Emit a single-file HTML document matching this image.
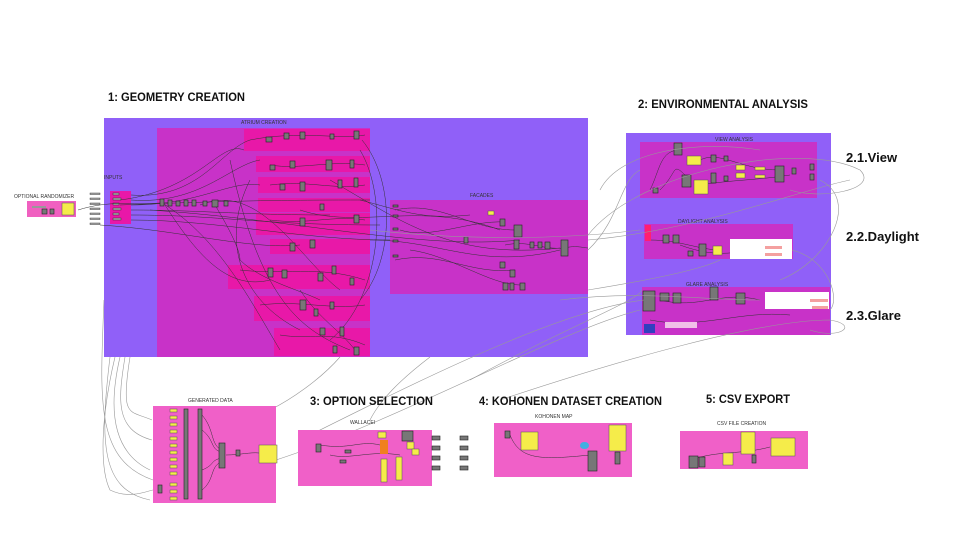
<!DOCTYPE html>
<html><head><meta charset="utf-8"><style>
body{margin:0;background:#fff;width:960px;height:540px;overflow:hidden}
svg{display:block}
.h{font-family:"Liberation Sans",sans-serif;font-weight:bold;font-size:12px;fill:#111}
.s{font-family:"Liberation Sans",sans-serif;font-size:5px;fill:#333}
.n{fill:#777;stroke:#222;stroke-width:.6}
.y{fill:#f5ec4a;stroke:#555;stroke-width:.5}
.w{fill:none;stroke:#333;stroke-width:.5}
.g{fill:none;stroke:#999;stroke-width:.6}
</style></head><body>
<svg width="960" height="540" viewBox="0 0 960 540">
<rect x="104" y="118" width="484" height="239" fill="#9060f8"/>
<rect x="157" y="128" width="213" height="229" fill="#c832c8"/>
<g fill="#e818a8">
<rect x="244" y="129" width="126" height="22"/><rect x="256" y="156" width="114" height="16"/>
<rect x="258" y="177" width="112" height="16"/><rect x="258" y="198" width="112" height="14"/>
<rect x="256" y="213" width="114" height="22"/><rect x="270" y="239" width="100" height="15"/>
<rect x="228" y="265" width="142" height="24"/><rect x="254" y="296" width="116" height="25"/>
<rect x="274" y="328" width="96" height="28"/>
</g>
<rect x="390" y="200" width="198" height="94" fill="#c832c8"/>
<text class="s" x="241" y="124">ATRIUM CREATION</text>
<text class="s" x="104" y="179">INPUTS</text>
<text class="s" x="470" y="197">FACADES</text>
<rect x="110" y="191" width="21" height="33" fill="#e818a8"/>
<g fill="#aaa" stroke="#222" stroke-width=".4">
<rect x="113" y="193" width="6" height="2"/><rect x="113" y="198" width="8" height="2"/><rect x="113" y="203" width="6" height="2"/><rect x="113" y="208" width="8" height="2"/><rect x="113" y="213" width="6" height="2"/><rect x="113" y="218" width="8" height="2"/>
<rect x="90" y="193" width="10" height="1.5"/><rect x="90" y="198" width="10" height="1.5"/><rect x="90" y="203" width="10" height="1.5"/><rect x="90" y="208" width="10" height="1.5"/><rect x="90" y="213" width="10" height="1.5"/><rect x="90" y="218" width="10" height="1.5"/><rect x="90" y="223" width="10" height="1.5"/>
</g>
<g class="w">
<path d="M78 210 C110 200 130 205 160 203"/><path d="M120 200 C200 190 220 140 244 150"/><path d="M120 205 C250 200 300 200 370 200"/>
<path d="M164 204 C220 240 250 300 280 350"/><path d="M200 205 C260 180 300 260 340 290"/><path d="M300 210 C360 230 420 200 500 230"/>
<path d="M360 150 C390 200 380 300 330 340"/><path d="M330 180 C400 220 450 260 560 248"/><path d="M150 210 C300 220 420 250 520 240"/>
<path d="M230 160 C260 300 300 330 350 350"/><path d="M370 240 C440 240 480 270 560 250"/>
<path d="M131 195 C200 200 220 150 250 140"/><path d="M131 200 C200 205 230 165 260 160"/><path d="M131 205 C200 205 230 180 260 185"/>
<path d="M131 210 C200 210 240 215 330 215"/><path d="M131 215 C220 215 260 225 380 225"/><path d="M131 220 C220 220 300 240 390 240"/>
<path d="M100 225 C180 230 250 250 300 245"/><path d="M165 205 C200 260 230 290 270 280"/><path d="M250 140 C300 130 340 140 365 135"/>
<path d="M270 165 C300 170 330 160 365 165"/><path d="M270 185 C310 180 330 190 365 185"/><path d="M270 220 C310 225 330 215 365 220"/>
<path d="M240 270 C280 275 320 265 365 280"/><path d="M260 305 C300 300 330 310 365 305"/><path d="M280 335 C310 340 330 330 365 345"/>
<path d="M250 180 C220 240 240 300 300 330"/><path d="M362 140 C395 180 395 260 360 300"/><path d="M360 200 C400 210 420 220 470 215"/>
<path d="M395 210 C440 200 470 230 515 230"/><path d="M395 260 C440 250 470 275 515 270"/><path d="M505 245 C530 240 540 250 565 248"/>
<path d="M400 230 C430 240 470 220 505 222"/><path d="M410 250 C450 255 490 285 520 285"/><path d="M565 248 C575 245 585 248 588 248"/>
<path d="M215 205 C230 230 240 250 240 260 C260 280 300 290 320 300"/><path d="M300 290 C320 320 340 330 355 350"/>
</g>
<g class="n">
<rect x="160" y="199" width="4" height="7"/><rect x="168" y="200" width="4" height="6"/><rect x="176" y="201" width="4" height="5"/><rect x="184" y="200" width="4" height="6"/><rect x="192" y="200" width="4" height="6"/><rect x="203" y="201" width="4" height="5"/><rect x="212" y="200" width="6" height="7"/><rect x="224" y="201" width="4" height="5"/>
<rect x="266" y="137" width="6" height="5"/><rect x="284" y="133" width="5" height="6"/><rect x="300" y="132" width="5" height="7"/><rect x="330" y="134" width="4" height="5"/><rect x="354" y="131" width="5" height="8"/><rect x="326" y="160" width="6" height="10"/><rect x="350" y="160" width="4" height="8"/><rect x="290" y="161" width="5" height="7"/><rect x="270" y="165" width="5" height="5"/>
<rect x="300" y="182" width="5" height="9"/><rect x="338" y="180" width="4" height="8"/><rect x="354" y="178" width="4" height="9"/><rect x="320" y="204" width="4" height="6"/><rect x="300" y="218" width="5" height="8"/><rect x="354" y="215" width="5" height="8"/><rect x="280" y="184" width="5" height="6"/>
<rect x="290" y="243" width="5" height="8"/><rect x="310" y="240" width="5" height="8"/><rect x="268" y="268" width="5" height="9"/><rect x="318" y="273" width="5" height="8"/><rect x="350" y="278" width="4" height="7"/><rect x="282" y="270" width="5" height="8"/><rect x="332" y="266" width="4" height="8"/>
<rect x="300" y="300" width="6" height="10"/><rect x="330" y="302" width="4" height="7"/><rect x="320" y="328" width="5" height="7"/><rect x="340" y="327" width="4" height="9"/><rect x="354" y="347" width="5" height="8"/><rect x="314" y="309" width="4" height="7"/><rect x="333" y="346" width="4" height="7"/>
<rect x="464" y="237" width="4" height="6"/><rect x="500" y="219" width="5" height="7"/><rect x="514" y="225" width="8" height="12"/><rect x="514" y="240" width="5" height="9"/><rect x="545" y="242" width="5" height="7"/><rect x="561" y="240" width="7" height="16"/><rect x="530" y="242" width="4" height="6"/><rect x="538" y="242" width="4" height="6"/>
<rect x="500" y="262" width="5" height="6"/><rect x="510" y="270" width="5" height="7"/><rect x="503" y="283" width="5" height="7"/><rect x="520" y="283" width="5" height="7"/><rect x="510" y="283" width="4" height="7"/>
<rect x="393" y="205" width="5" height="2"/><rect x="393" y="215" width="5" height="2"/><rect x="393" y="228" width="5" height="2"/><rect x="393" y="240" width="5" height="2"/><rect x="393" y="255" width="5" height="2"/>
</g>
<rect x="488" y="211" width="6" height="4" class="y"/>
<rect x="27" y="201" width="49" height="16" fill="#f060c0"/>
<rect x="62" y="203" width="12" height="12" class="y"/>
<rect x="32" y="206" width="14" height="2" fill="#999"/><rect x="42" y="209" width="5" height="5" class="n"/><rect x="50" y="209" width="4" height="5" class="n"/>
<text class="s" x="14" y="198">OPTIONAL RANDOMIZER</text>
<rect x="626" y="133" width="205" height="202" fill="#9060f8"/>
<rect x="640" y="142" width="177" height="56" fill="#c832c8"/>
<rect x="644" y="224" width="149" height="35" fill="#c832c8"/>
<rect x="642" y="287" width="188" height="48" fill="#c832c8"/>
<text class="s" x="715" y="141">VIEW ANALYSIS</text>
<text class="s" x="678" y="223">DAYLIGHT ANALYSIS</text>
<text class="s" x="686" y="286">GLARE ANALYSIS</text>
<g class="w">
<path d="M650 190 C660 170 660 150 680 150"/><path d="M660 190 C680 170 670 160 690 180"/><path d="M700 160 C720 150 740 170 780 170"/><path d="M700 185 C730 180 760 180 790 175"/>
<path d="M650 240 C680 240 700 250 720 250"/><path d="M680 245 C720 260 740 250 760 250"/><path d="M660 300 C700 310 720 290 760 300"/><path d="M650 320 C700 330 740 310 790 315"/>
</g>
<rect x="687" y="156" width="14" height="9" class="y"/><rect x="694" y="180" width="14" height="14" class="y"/>
<rect x="736" y="165" width="9" height="5" class="y"/><rect x="736" y="173" width="9" height="5" class="y"/><rect x="755" y="167" width="10" height="3" class="y"/><rect x="755" y="175" width="10" height="3" class="y"/>
<g class="n"><rect x="674" y="143" width="8" height="12"/><rect x="682" y="175" width="9" height="12"/><rect x="711" y="155" width="5" height="7"/><rect x="711" y="173" width="5" height="10"/><rect x="775" y="166" width="9" height="16"/><rect x="792" y="168" width="4" height="6"/><rect x="810" y="164" width="4" height="6"/><rect x="810" y="174" width="4" height="6"/><rect x="653" y="188" width="5" height="5"/><rect x="724" y="156" width="4" height="5"/><rect x="724" y="176" width="4" height="5"/>
<rect x="663" y="235" width="6" height="8"/><rect x="673" y="235" width="6" height="8"/><rect x="699" y="244" width="7" height="12"/><rect x="688" y="251" width="5" height="5"/><rect x="643" y="291" width="12" height="20"/><rect x="673" y="293" width="8" height="10"/><rect x="710" y="287" width="8" height="13"/><rect x="736" y="293" width="9" height="11"/><rect x="660" y="293" width="9" height="8"/></g>
<rect x="645" y="225" width="6" height="16" fill="#ff2070"/>
<rect x="713" y="246" width="9" height="9" class="y"/>
<rect x="730" y="239" width="62" height="20" fill="#fff"/>
<rect x="765" y="246" width="17" height="3" fill="#f4a0a0"/><rect x="765" y="253" width="17" height="3" fill="#f4a0a0"/>
<rect x="765" y="292" width="64" height="17" fill="#fff"/>
<rect x="810" y="299" width="18" height="3" fill="#f4a0a0"/><rect x="812" y="306" width="16" height="3" fill="#f4a0a0"/>
<rect x="644" y="324" width="11" height="9" fill="#3040c0"/>
<rect x="665" y="322" width="32" height="6" fill="#f0c0e8"/>
<g class="h" style="font-size:13px"><text x="846" y="162">2.1.View</text><text x="846" y="241">2.2.Daylight</text><text x="846" y="320">2.3.Glare</text></g>
<g class="g">
<path d="M588 250 C620 220 620 180 640 170"/><path d="M588 235 C640 170 800 140 860 170 C880 190 820 200 790 190"/>
<path d="M370 230 C460 240 560 240 640 230"/><path d="M588 240 C700 230 800 190 850 180"/>
<path d="M470 380 C560 330 640 300 642 290"/><path d="M500 400 C620 360 760 320 830 320 C860 325 840 340 810 330"/>
<path d="M300 440 C420 380 560 310 644 300"/><path d="M276 460 C400 420 560 330 640 310"/>
<path d="M115 357 C100 420 100 470 110 490 C130 500 150 490 153 490"/><path d="M120 357 C110 400 108 450 150 470"/>
<path d="M125 357 C118 400 115 430 152 440"/><path d="M130 357 C120 420 130 410 152 420"/>
<path d="M104 300 C100 400 95 460 153 480"/><path d="M340 357 C320 380 290 400 270 410"/>
<path d="M430 357 C400 380 380 400 370 420"/><path d="M820 180 C860 200 830 260 780 280"/>
<path d="M792 250 C830 260 840 300 830 310"/><path d="M588 290 C650 280 700 270 720 260"/>
<path d="M110 357 C100 440 100 490 150 500"/><path d="M600 190 C620 150 700 140 760 150"/><path d="M560 300 C640 290 700 300 760 300"/>
</g>
<rect x="153" y="406" width="123" height="97" fill="#f060c8"/>
<rect x="298" y="430" width="134" height="56" fill="#f060c8"/>
<rect x="494" y="423" width="138" height="54" fill="#f060c8"/>
<rect x="680" y="431" width="128" height="38" fill="#f060c8"/>
<text class="s" x="188" y="402">GENERATED DATA</text><text class="s" x="350" y="424">WALLACEI</text>
<text class="s" x="535" y="418">KOHONEN MAP</text><text class="s" x="717" y="425">CSV FILE CREATION</text>
<g class="w">
<path d="M202 415 C215 430 210 445 222 450"/><path d="M202 430 C215 440 210 450 222 452"/><path d="M202 470 C215 465 210 460 222 458"/><path d="M202 490 C215 480 210 465 222 462"/><path d="M226 455 C240 455 250 452 259 453"/>
<path d="M320 445 C350 450 360 440 380 445"/><path d="M330 455 C350 460 370 450 400 455"/><path d="M510 435 C520 460 540 460 590 455"/><path d="M690 460 C720 450 740 455 770 447"/>
</g>
<g class="y">
<rect x="170" y="409" width="7" height="3"/><rect x="170" y="416" width="7" height="3"/><rect x="170" y="423" width="7" height="3"/><rect x="170" y="430" width="7" height="3"/><rect x="170" y="437" width="7" height="3"/><rect x="170" y="444" width="7" height="3"/><rect x="170" y="451" width="7" height="3"/><rect x="170" y="458" width="7" height="3"/><rect x="170" y="465" width="7" height="3"/><rect x="170" y="472" width="7" height="3"/><rect x="170" y="483" width="7" height="3"/><rect x="170" y="490" width="7" height="3"/><rect x="170" y="497" width="7" height="3"/>
<rect x="259" y="445" width="18" height="18"/>
<rect x="378" y="432" width="8" height="6"/><rect x="407" y="442" width="7" height="7"/><rect x="412" y="449" width="7" height="6"/>
<rect x="381" y="459" width="6" height="23"/><rect x="396" y="457" width="6" height="23"/>
<rect x="521" y="432" width="17" height="18"/><rect x="609" y="425" width="17" height="26"/>
<rect x="741" y="432" width="14" height="22"/><rect x="771" y="438" width="24" height="18"/><rect x="723" y="453" width="10" height="12"/>
</g>
<g class="n">
<rect x="184" y="409" width="4" height="90"/><rect x="198" y="409" width="4" height="90"/><rect x="219" y="443" width="6" height="25"/><rect x="158" y="485" width="4" height="8"/><rect x="236" y="450" width="4" height="6"/>
<rect x="316" y="444" width="5" height="8"/><rect x="402" y="431" width="11" height="10"/><rect x="432" y="436" width="8" height="4"/><rect x="432" y="446" width="8" height="4"/><rect x="432" y="456" width="8" height="4"/><rect x="432" y="466" width="8" height="4"/>
<rect x="460" y="436" width="8" height="4"/><rect x="460" y="446" width="8" height="4"/><rect x="460" y="456" width="8" height="4"/><rect x="460" y="466" width="8" height="4"/><rect x="345" y="450" width="6" height="3"/><rect x="340" y="460" width="6" height="3"/>
<rect x="588" y="451" width="9" height="20"/><rect x="505" y="431" width="5" height="7"/><rect x="689" y="456" width="9" height="12"/><rect x="752" y="455" width="4" height="8"/><rect x="615" y="452" width="5" height="12"/><rect x="699" y="457" width="6" height="10"/>
</g>
<rect x="580" y="442" width="9" height="7" rx="4" fill="#40b0e0"/>
<rect x="380" y="440" width="8" height="14" fill="#f08020"/>
<g class="h"><text x="108" y="101" textLength="137" lengthAdjust="spacingAndGlyphs">1: GEOMETRY CREATION</text><text x="638" y="108" textLength="170" lengthAdjust="spacingAndGlyphs">2: ENVIRONMENTAL ANALYSIS</text>
<text x="310" y="405" textLength="123" lengthAdjust="spacingAndGlyphs">3: OPTION SELECTION</text><text x="479" y="405" textLength="183" lengthAdjust="spacingAndGlyphs">4: KOHONEN DATASET CREATION</text><text x="706" y="403" textLength="84" lengthAdjust="spacingAndGlyphs">5: CSV EXPORT</text></g>
</svg>
</body></html>
